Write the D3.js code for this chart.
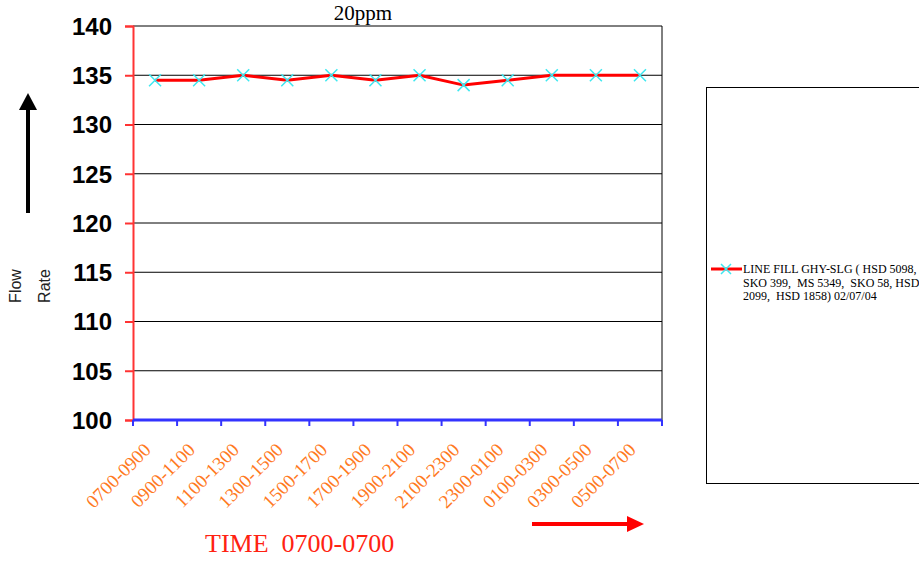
<!DOCTYPE html>
<html><head><meta charset="utf-8">
<script src="https://cdn.jsdelivr.net/npm/d3@7"></script>
<style>body{margin:0;background:#fff}svg{display:block}text{white-space:pre}</style>
</head><body><div id="chart"></div>
<script>
const categories=["0700-0900","0900-1100","1100-1300","1300-1500","1500-1700","1700-1900","1900-2100","2100-2300","2300-0100","0100-0300","0300-0500","0500-0700"];
const flowValues=[134.5,134.5,135,134.5,135,134.5,135,134,134.5,135,135,135];
const yTicks=[100,105,110,115,120,125,130,135,140];
const seriesName=["LINE FILL GHY-SLG ( HSD 5098,","SKO 399,  MS 5349,  SKO 58, HSD","2099,  HSD 1858) 02/07/04"];

(function(){
  const W=919,H=563;
  const m={left:133,top:26,right:257,bottom:143};
  const w=W-m.left-m.right, ih=H-m.top-m.bottom;
  const svg=d3.select("#chart").append("svg").attr("width",W).attr("height",H);
  const serif="Liberation Serif, Times New Roman", sans="Liberation Sans, Arial";

  const x=d3.scaleBand().domain(categories).range([0,w]);
  const y=d3.scaleLinear().domain([100,140]).range([ih,0]);
  const g=svg.append("g").attr("transform",`translate(${m.left},${m.top})`);

  // gridlines
  g.append("g").selectAll("line").data(yTicks.filter(t=>t>100)).join("line")
    .attr("x1",0).attr("x2",w).attr("y1",d=>y(d)).attr("y2",d=>y(d))
    .attr("stroke","#000").attr("stroke-width",1);
  g.append("line").attr("x1",w).attr("x2",w).attr("y1",0).attr("y2",ih).attr("stroke","#000");

  // y axis
  g.append("g").call(d3.axisLeft(y).tickValues(yTicks).tickSize(8).tickPadding(13))
    .call(s=>s.select(".domain").attr("stroke","#f33").attr("stroke-width",2))
    .call(s=>s.selectAll("line").attr("stroke","#f33").attr("stroke-width",2))
    .call(s=>s.selectAll("text").attr("fill","#000").attr("font-family",sans)
      .attr("font-weight","bold").attr("font-size",24).attr("dy","0.35em").attr("x",-21));

  // x axis
  const xa=g.append("g").attr("transform",`translate(0,${ih})`);
  xa.append("line").attr("x1",0).attr("x2",w).attr("stroke","#33f").attr("stroke-width",3);
  xa.selectAll("line.t").data(d3.range(categories.length+1)).join("line").attr("class","t")
    .attr("x1",i=>i*x.step()).attr("x2",i=>i*x.step()).attr("y1",0).attr("y2",6)
    .attr("stroke","#33f").attr("stroke-width",2);
  xa.selectAll("text").data(categories).join("text")
    .attr("transform",d=>`translate(${x(d)+x.bandwidth()/2-3},31) rotate(-45)`)
    .attr("text-anchor","end")
    .attr("font-family",serif).attr("font-size",19)
    .attr("fill","#ff7a1f").text(d=>d);

  // line + markers
  const line=d3.line().x((d,i)=>x(categories[i])+x.bandwidth()/2).y(d=>y(d));
  g.append("path").datum(flowValues).attr("fill","none").attr("stroke","#f00").attr("stroke-width",3).attr("d",line);
  const s=6;
  g.selectAll("path.mk").data(flowValues).join("path").attr("class","mk")
    .attr("transform",(d,i)=>`translate(${x(categories[i])+x.bandwidth()/2},${y(d)})`)
    .attr("d",`M${-s},${-s}L${s},${s}M${-s},${s}L${s},${-s}`)
    .attr("stroke","#3ee8f0").attr("stroke-width",1.5);

  // title
  svg.append("text").attr("x",363).attr("y",20).attr("text-anchor","middle")
    .attr("font-family",serif).attr("font-size",21).text("20ppm");

  // y label
  svg.append("text").attr("transform","translate(21,286) rotate(-90)").attr("text-anchor","middle")
    .attr("font-family",sans).attr("font-size",16).attr("fill","#222").text("Flow");
  svg.append("text").attr("transform","translate(50,286) rotate(-90)").attr("text-anchor","middle")
    .attr("font-family",sans).attr("font-size",16).attr("fill","#222").text("Rate");
  svg.append("rect").attr("x",26).attr("y",109).attr("width",4).attr("height",104).attr("fill","#000");
  svg.append("path").attr("d","M19,110L37,110L28,93Z").attr("fill","#000");

  // x label
  svg.append("text").attr("x",205).attr("y",552)
    .attr("font-family",serif).attr("font-size",26).attr("fill","#f21").text("TIME  0700-0700");
  svg.append("rect").attr("x",532).attr("y",522).attr("width",96).attr("height",4).attr("fill","#f00");
  svg.append("path").attr("d","M627,516L644,524L627,532Z").attr("fill","#f00");

  // legend
  svg.append("rect").attr("x",706.5).attr("y",87.5).attr("width",230).attr("height",396)
    .attr("fill","#fff").attr("stroke","#000");
  svg.append("line").attr("x1",711).attr("x2",742).attr("y1",269).attr("y2",269).attr("stroke","#f00").attr("stroke-width",3);
  svg.append("path").attr("transform","translate(726,269)").attr("d","M-5,-5L5,5M-5,5L5,-5")
    .attr("stroke","#3ee8f0").attr("stroke-width",1.5);
  svg.append("text").attr("font-family",serif).attr("font-size",12)
    .selectAll("tspan").data(seriesName).join("tspan").attr("x",743).attr("y",(d,i)=>273+i*13.5).text(d=>d);
})();
</script></body></html>
